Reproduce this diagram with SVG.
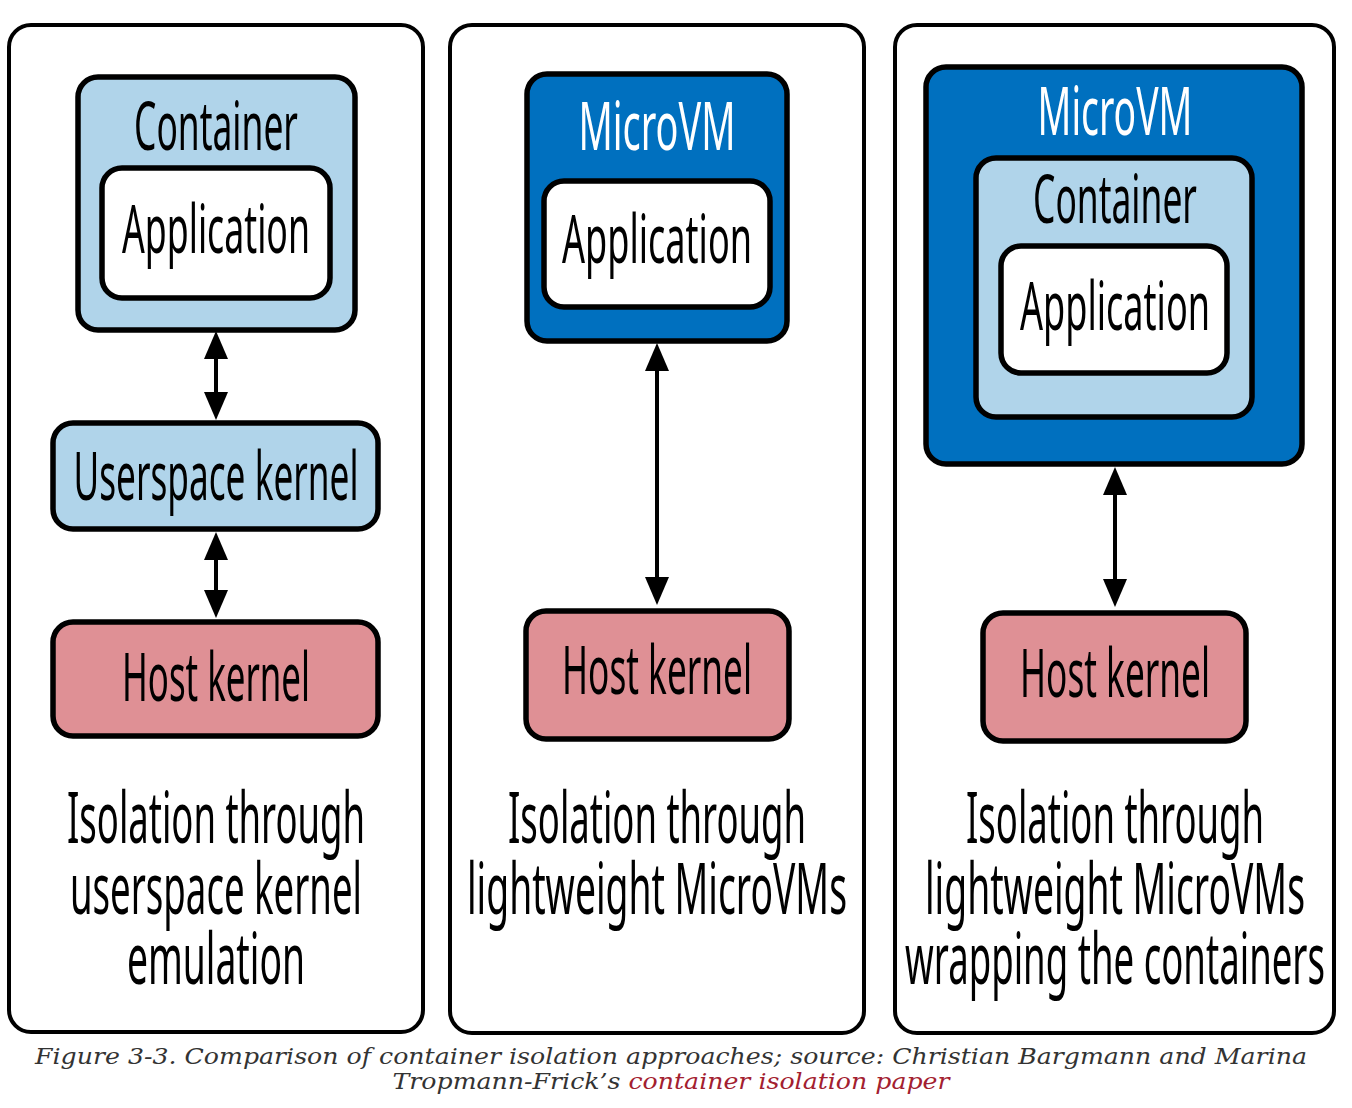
<svg xmlns="http://www.w3.org/2000/svg" width="1352" height="1108" viewBox="0 0 1352 1108">
<style>
.panel{fill:#fff;stroke:#000;stroke-width:4}
.node{stroke:#000;stroke-width:5.5}
.lb{fill:#b0d4ea}
.db{fill:#0070bf}
.wh{fill:#fff}
.pk{fill:#df9095}
.t{font-family:"Noto Sans","Open Sans","Liberation Sans",sans-serif;font-size:68px;text-anchor:middle;fill:#000}
.tw{fill:#fff}
.cap{font-family:"Noto Sans","Open Sans","Liberation Sans",sans-serif;font-size:72px;text-anchor:middle;fill:#000}
.fig{font-family:"DejaVu Serif","Liberation Serif",serif;font-style:italic;font-size:23px;text-anchor:middle;fill:#333}
.link{fill:#a3202f}
.conn{stroke:#000;stroke-width:4;fill:none;marker-start:url(#ah);marker-end:url(#ah)}
</style>
<defs>
<marker id="ah" viewBox="0 0 28 24" refX="8" refY="12" markerWidth="28" markerHeight="24" markerUnits="userSpaceOnUse" orient="auto-start-reverse">
<path d="M0,0 L28,12 L0,24 z" fill="#000"/>
</marker>
</defs>

<g id="panel1">
<rect class="panel" x="9" y="25" width="414" height="1007" rx="22"/>
<g id="p1-container">
<rect class="node lb" x="78" y="77" width="277" height="253" rx="20"/>
<text class="t" x="216" y="150" textLength="164" lengthAdjust="spacingAndGlyphs">Container</text>
</g>
<g id="p1-application">
<rect class="node wh" x="102" y="168" width="228" height="130" rx="20"/>
<text class="t" x="216" y="253" textLength="188" lengthAdjust="spacingAndGlyphs">Application</text>
</g>
<g id="p1-userspace">
<rect class="node lb" x="53" y="423" width="325" height="106" rx="20"/>
<text class="t" x="216" y="500" textLength="285" lengthAdjust="spacingAndGlyphs">Userspace kernel</text>
</g>
<g id="p1-host">
<rect class="node pk" x="53" y="622" width="325" height="114" rx="20"/>
<text class="t" x="216" y="701" textLength="188" lengthAdjust="spacingAndGlyphs">Host kernel</text>
</g>
<g id="p1-caption">
<text class="cap" x="216" y="843" textLength="298" lengthAdjust="spacingAndGlyphs">Isolation through</text>
<text class="cap" x="216" y="914" textLength="292" lengthAdjust="spacingAndGlyphs">userspace kernel</text>
<text class="cap" x="216" y="984" textLength="178" lengthAdjust="spacingAndGlyphs">emulation</text>
</g>
</g>

<g id="panel2">
<rect class="panel" x="450" y="25" width="414" height="1008" rx="22"/>
<g id="p2-microvm">
<rect class="node db" x="527" y="74" width="260" height="267" rx="20"/>
<text class="t tw" x="657" y="150" textLength="157" lengthAdjust="spacingAndGlyphs">MicroVM</text>
</g>
<g id="p2-application">
<rect class="node wh" x="544" y="181" width="226" height="126" rx="20"/>
<text class="t" x="657" y="263" textLength="190" lengthAdjust="spacingAndGlyphs">Application</text>
</g>
<g id="p2-host">
<rect class="node pk" x="526" y="611" width="263" height="128" rx="20"/>
<text class="t" x="657" y="694" textLength="190" lengthAdjust="spacingAndGlyphs">Host kernel</text>
</g>
<g id="p2-caption">
<text class="cap" x="657" y="843" textLength="298" lengthAdjust="spacingAndGlyphs">Isolation through</text>
<text class="cap" x="657" y="914" textLength="380" lengthAdjust="spacingAndGlyphs">lightweight MicroVMs</text>
</g>
</g>

<g id="panel3">
<rect class="panel" x="895" y="25" width="439" height="1008" rx="22"/>
<g id="p3-microvm">
<rect class="node db" x="926" y="67" width="376" height="397" rx="20"/>
<text class="t tw" x="1115" y="135" textLength="155" lengthAdjust="spacingAndGlyphs">MicroVM</text>
</g>
<g id="p3-container">
<rect class="node lb" x="976" y="158" width="276" height="259" rx="20"/>
<text class="t" x="1115" y="223" textLength="164" lengthAdjust="spacingAndGlyphs">Container</text>
</g>
<g id="p3-application">
<rect class="node wh" x="1001" y="246" width="226" height="127" rx="20"/>
<text class="t" x="1115" y="330" textLength="190" lengthAdjust="spacingAndGlyphs">Application</text>
</g>
<g id="p3-host">
<rect class="node pk" x="983" y="613" width="263" height="128" rx="20"/>
<text class="t" x="1115" y="697" textLength="190" lengthAdjust="spacingAndGlyphs">Host kernel</text>
</g>
<g id="p3-caption">
<text class="cap" x="1115" y="843" textLength="298" lengthAdjust="spacingAndGlyphs">Isolation through</text>
<text class="cap" x="1115" y="914" textLength="380" lengthAdjust="spacingAndGlyphs">lightweight MicroVMs</text>
<text class="cap" x="1115" y="984" textLength="420" lengthAdjust="spacingAndGlyphs">wrapping the containers</text>
</g>
</g>

<g id="connectors">
<line class="conn" x1="216" y1="351" x2="216" y2="400"/>
<line class="conn" x1="216" y1="552" x2="216" y2="598"/>
<line class="conn" x1="657" y1="363" x2="657" y2="585"/>
<line class="conn" x1="1115" y1="487" x2="1115" y2="587"/>
</g>

<g id="figure-caption">
<text class="fig" x="671" y="1064" textLength="1272" lengthAdjust="spacingAndGlyphs">Figure 3-3. Comparison of container isolation approaches; source: Christian Bargmann and Marina</text>
<text class="fig" x="671" y="1089" textLength="557" lengthAdjust="spacingAndGlyphs">Tropmann-Frick’s <tspan class="link">container isolation paper</tspan></text>
</g>
</svg>
